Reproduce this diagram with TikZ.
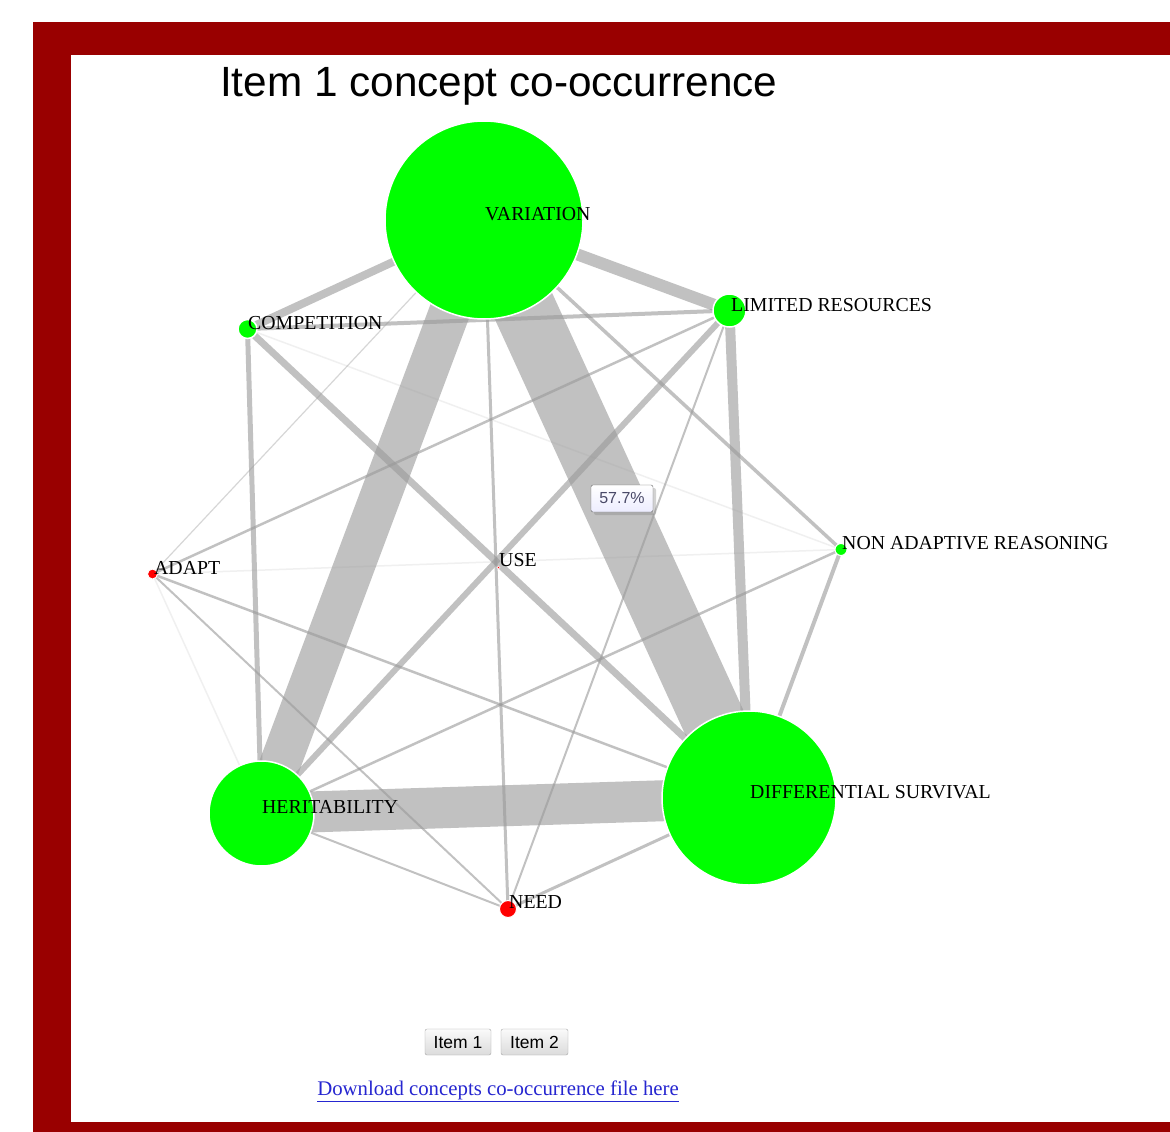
\documentclass[tikz,border=0pt]{standalone}
\usepackage{fontspec}
\setmainfont{Liberation Serif}
\newfontfamily\arialf{Liberation Sans}
\usetikzlibrary{shadows}
\definecolor{framered}{HTML}{990000}
\definecolor{nodegreen}{HTML}{00FF00}
\definecolor{nodered}{HTML}{FF0000}
\definecolor{edgegray}{HTML}{999999}
\definecolor{linkblue}{HTML}{2626D0}
\definecolor{tiptext}{HTML}{4A4A68}
\pgfdeclarelayer{back}
\pgfdeclarelayer{bg}
\pgfsetlayers{back,bg,main}
\begin{document}
\begin{tikzpicture}[x=1pt,y=-1pt,
  edge/.style={draw=edgegray, draw opacity=0.6},
  faint/.style={draw=edgegray, draw opacity=0.14, line width=1.5pt},
  concept/.style={circle, inner sep=0pt, draw=white, line width=1.5pt},
  lbl/.style={anchor=base west, inner sep=0pt, font=\fontsize{19.8}{23}\selectfont, text=black},
  btn/.style={draw=black!35, rounded corners=2pt, top color=black!2, bottom color=black!14,
    font=\arialf\fontsize{17.5}{20}\selectfont, minimum height=26pt, inner sep=0pt,
    text height=12.5pt, text depth=0pt}
]
\useasboundingbox (0,0) rectangle (1170,1132);
\begin{pgfonlayer}{back}
\fill[framered] (33,22) rectangle (1170,1132);
\fill[white] (71,55) rectangle (1170,1122);
\end{pgfonlayer}

\node[anchor=base west, inner sep=0pt, font=\arialf\fontsize{42.3}{50}\selectfont] (title) at (220,96) {Item 1 concept co-occurrence};

% concept nodes
\node[concept, fill=nodegreen, minimum size=198pt] (V) at (484,220) {};
\node[concept, fill=nodegreen, minimum size=174pt] (D) at (749,798) {};
\node[concept, fill=nodegreen, minimum size=105pt] (H) at (261.5,813.5) {};
\node[concept, fill=nodegreen, minimum size=33pt] (L) at (729.5,310.5) {};
\node[concept, fill=nodegreen, minimum size=19pt] (C) at (247.5,329) {};
\node[concept, fill=nodegreen, minimum size=12pt, line width=1pt] (N) at (841,549.5) {};
\node[concept, fill=nodered, minimum size=10pt, line width=1pt] (A) at (152.5,574) {};
\node[concept, fill=nodered, minimum size=3pt, line width=0.5pt] (U) at (498.5,567.5) {};
\node[concept, fill=nodered, minimum size=17pt, line width=1pt] (E) at (508,909) {};

% edges
\begin{pgfonlayer}{bg}
\draw[edge, line width=63pt] (V.center) -- (D.center);
\draw[edge, line width=41pt] (V.center) -- (H.center);
\draw[edge, line width=41pt] (H.center) -- (D.center);
\draw[edge, line width=12pt] (V.center) -- (L.center);
\draw[edge, line width=10pt] (L.center) -- (D.center);
\draw[edge, line width=8pt] (V.center) -- (C.center);
\draw[edge, line width=7pt] (C.center) -- (D.center);
\draw[edge, line width=6pt] (L.center) -- (H.center);
\draw[edge, line width=5pt] (C.center) -- (H.center);
\draw[edge, line width=4pt] (C.center) -- (L.center);
\draw[edge, line width=4pt] (N.center) -- (D.center);
\draw[edge, line width=3.5pt] (V.center) -- (N.center);
\draw[edge, line width=3pt] (V.center) -- (E.center);
\draw[edge, line width=3pt] (D.center) -- (E.center);
\draw[edge, line width=2.5pt] (A.center) -- (L.center);
\draw[edge, line width=2.5pt] (A.center) -- (D.center);
\draw[edge, line width=2.5pt] (N.center) -- (H.center);
\draw[edge, line width=2pt] (L.center) -- (E.center);
\draw[edge, line width=2pt] (A.center) -- (E.center);
\draw[edge, line width=2pt] (H.center) -- (E.center);
\draw[edge, line width=1.2pt, draw opacity=0.4] (V.center) -- (A.center);
\draw[faint] (C.center) -- (N.center);
\draw[faint] (A.center) -- (N.center);
\draw[faint] (A.center) -- (H.center);
\end{pgfonlayer}

% labels
\node[lbl] (Vl) at (485,220) {VARIATION};
\node[lbl] (Dl) at (750,798) {DIFFERENTIAL SURVIVAL};
\node[lbl] (Hl) at (262,813) {HERITABILITY};
\node[lbl] (Ll) at (731,311) {LIMITED RESOURCES};
\node[lbl] (Cl) at (248,329) {COMPETITION};
\node[lbl] (Nl) at (842,549) {NON ADAPTIVE REASONING};
\node[lbl] (Al) at (154,574) {ADAPT};
\node[lbl] (Ul) at (499,566) {USE};
\node[lbl] (El) at (509,908) {NEED};

% tooltip
\node[draw=black!60, rounded corners=2pt, top color=white, bottom color=blue!7,
  drop shadow={shadow xshift=3pt, shadow yshift=-3pt, opacity=0.35},
  font=\arialf\fontsize{16}{18}\selectfont, text=tiptext,
  minimum width=62pt, minimum height=27pt, inner sep=0pt] (tip) at (622,498.5) {57.7\%};

% buttons
\node[btn, minimum width=66pt] (b1) at (458,1042) {Item 1};
\node[btn, minimum width=67pt] (b2) at (534.5,1042) {Item 2};

% link
\node[anchor=base, inner sep=0pt, text=linkblue, font=\fontsize{20.8}{24}\selectfont] (link) at (498,1095) {\underline{Download concepts co-occurrence file here}};
\end{tikzpicture}
\end{document}
